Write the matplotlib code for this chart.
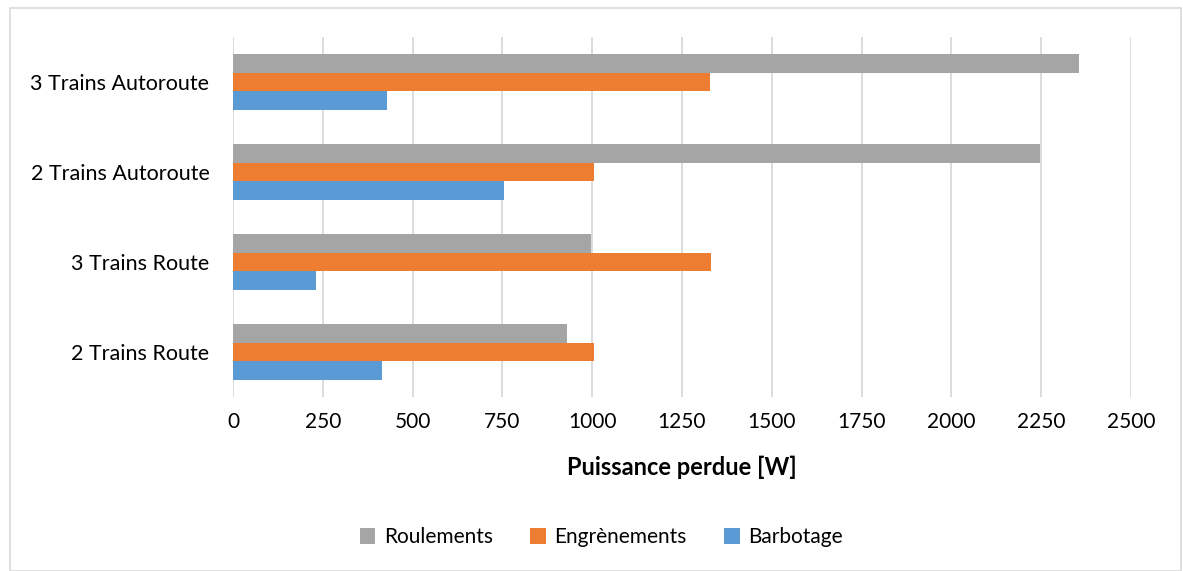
import matplotlib.pyplot as plt
import numpy as np
from matplotlib.patches import Rectangle

plt.rcParams['font.family'] = ['Lato', 'DejaVu Sans']

categories = ['2 Trains Route', '3 Trains Route', '2 Trains Autoroute', '3 Trains Autoroute']
roulements = [930, 997, 2247, 2355]
engrenements = [1005, 1331, 1005, 1328]
barbotage = [415, 231, 754, 429]
xticks = [0, 250, 500, 750, 1000, 1250, 1500, 1750, 2000, 2250, 2500]

fig = plt.figure(figsize=(11.83, 5.71), dpi=100)
ax = fig.add_axes([233/1183, 1-397/571, (1131-233)/1183, 360/571])

# outer chart border
fig.patches.append(Rectangle((10/1183, 0), 1 - 12/1183, 1 - 8/571, transform=fig.transFigure,
                             fill=False, edgecolor='#d9d9d9', linewidth=1.2))

y = np.arange(len(categories))
h = 0.205
ax.barh(y + h, roulements, height=h, color='#a5a5a5', label='Roulements', zorder=3)
ax.barh(y, engrenements, height=h, color='#ed7d31', label='Engrènements', zorder=3)
ax.barh(y - h, barbotage, height=h, color='#5b9bd5', label='Barbotage', zorder=3)

ax.set_xlim(0, 2500)
ax.set_ylim(-0.5, 3.5)
ax.set_xticks(xticks)
ax.set_xticklabels([str(v) for v in xticks], fontsize=15, color='#000000')
ax.set_yticks(y)
ax.set_yticklabels(categories, fontsize=15.5)
ax.tick_params(axis='y', length=0, pad=17)
ax.tick_params(axis='x', length=0, pad=11)
ax.grid(axis='x', color='#d9d9d9', linewidth=1.3, zorder=0)
for s in ax.spines.values():
    s.set_visible(False)

ax.set_xlabel('Puissance perdue [W]', fontsize=17, fontweight='bold', labelpad=17)

ax.legend(loc='upper center', bbox_to_anchor=(0.41, -0.31), ncol=3, frameon=False,
          fontsize=15, handlelength=0.75, handleheight=0.75, handletextpad=0.4, columnspacing=1.8)

plt.savefig('out.png', dpi=100)
